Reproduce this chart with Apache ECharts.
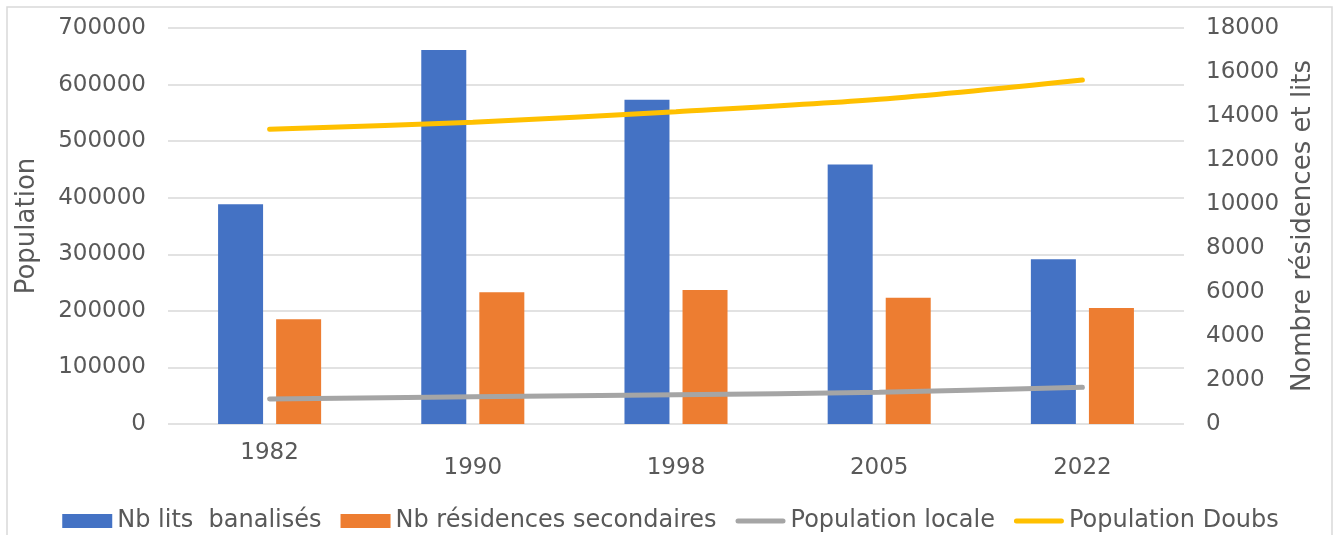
<!DOCTYPE html>
<html lang="fr">
<head>
<meta charset="UTF-8">
<title>Population et hébergements</title>
<script src="https://cdn.jsdelivr.net/npm/echarts@6/dist/echarts.min.js"></script>
<style>
	body { margin: 0; background: #fff; }
</style>
</head>
<body>
	<div id="main" style="width: 1341px; height: 535px;"></div>
	<script type="text/javascript">
		// données
		var annees = ['1982', '1990', '1998', '2005', '2022'];
		var litsBanalises = [9990, 17000, 14740, 11790, 7490];
		var residencesSecondaires = [4760, 5990, 6090, 5740, 5270];
		var populationLocale = [44200, 48300, 51800, 56000, 64900];
		var populationDoubs = [520900, 533300, 552100, 573900, 608100];

		var police = 'DejaVu Sans';
		var gris = '#595959';
		// trait arrondi pour la légende des courbes
		var iconeLigne = 'path://M2.5,0 L47.5,0 A2.5,2.5 0 0 1 47.5,5 L2.5,5 A2.5,2.5 0 0 1 2.5,0 Z';
		// nombres sans séparateur de milliers
		function brut(v) { return String(v); }

		var myChart = echarts.init(document.getElementById('main'));
		var option = {
			animation: false,
			textStyle: { fontFamily: police, color: gris },
			// cadre gris autour du graphique
			graphic: [{
				type: 'rect',
				shape: { x: 7, y: 7, width: 1325, height: 540 },
				style: { fill: 'none', stroke: '#d9d9d9', lineWidth: 1.5 },
				silent: true
			}],
			grid: { left: 168, right: 157, top: 28, bottom: 111 },
			legend: {
				left: 'center',
				top: 504,
				itemWidth: 50,
				itemHeight: 14,
				itemGap: 19,
				textStyle: { fontFamily: police, fontSize: 24, color: gris },
				data: [
					{ name: 'Nb lits  banalisés', icon: 'rect' },
					{ name: 'Nb résidences secondaires', icon: 'rect' },
					{ name: 'Population locale', icon: iconeLigne },
					{ name: 'Population Doubs', icon: iconeLigne }
				]
			},
			xAxis: {
				type: 'category',
				data: annees,
				axisLine: { show: false },
				axisTick: { show: false },
				axisLabel: {
					margin: 18,
					formatter: function (v, i) {
						return i === 0 ? '{a|' + v + '}' : '{b|' + v + '}';
					},
					rich: {
						a: { fontSize: 23, color: gris, fontFamily: police },
						b: { fontSize: 23, color: gris, fontFamily: police, padding: [15, 0, 0, 0] }
					}
				}
			},
			yAxis: [{
				type: 'value',
				name: 'Population',
				nameLocation: 'middle',
				nameGap: 128,
				nameTextStyle: { fontSize: 26, color: gris, fontFamily: police },
				min: 0,
				max: 700000,
				interval: 100000,
				axisLabel: { margin: 22, fontSize: 23, color: gris, formatter: brut },
				splitLine: { lineStyle: { color: '#d9d9d9', width: 1.5 } }
			}, {
				type: 'value',
				name: 'Nombre résidences et lits',
				nameLocation: 'middle',
				nameGap: 104,
				nameTextStyle: { fontSize: 26, color: gris, fontFamily: police },
				min: 0,
				max: 18000,
				interval: 2000,
				axisLabel: { margin: 22, fontSize: 23, color: gris, formatter: brut },
				splitLine: { show: false }
			}],
			series: [{
				name: 'Nb lits  banalisés',
				type: 'bar',
				yAxisIndex: 1,
				barWidth: 45,
				barGap: '29%',
				itemStyle: { color: '#4472C4' },
				data: litsBanalises
			}, {
				name: 'Nb résidences secondaires',
				type: 'bar',
				yAxisIndex: 1,
				barWidth: 45,
				barGap: '29%',
				itemStyle: { color: '#ED7D31' },
				data: residencesSecondaires
			}, {
				name: 'Population locale',
				type: 'line',
				yAxisIndex: 0,
				smooth: 0.3,
				symbol: 'none',
				itemStyle: { color: '#A5A5A5' },
				lineStyle: { color: '#A5A5A5', width: 5, cap: 'round' },
				data: populationLocale
			}, {
				name: 'Population Doubs',
				type: 'line',
				yAxisIndex: 0,
				smooth: 0.3,
				symbol: 'none',
				itemStyle: { color: '#FFC000' },
				lineStyle: { color: '#FFC000', width: 5, cap: 'round' },
				data: populationDoubs
			}]
		};
		myChart.setOption(option);
	</script>
</body>
</html>
